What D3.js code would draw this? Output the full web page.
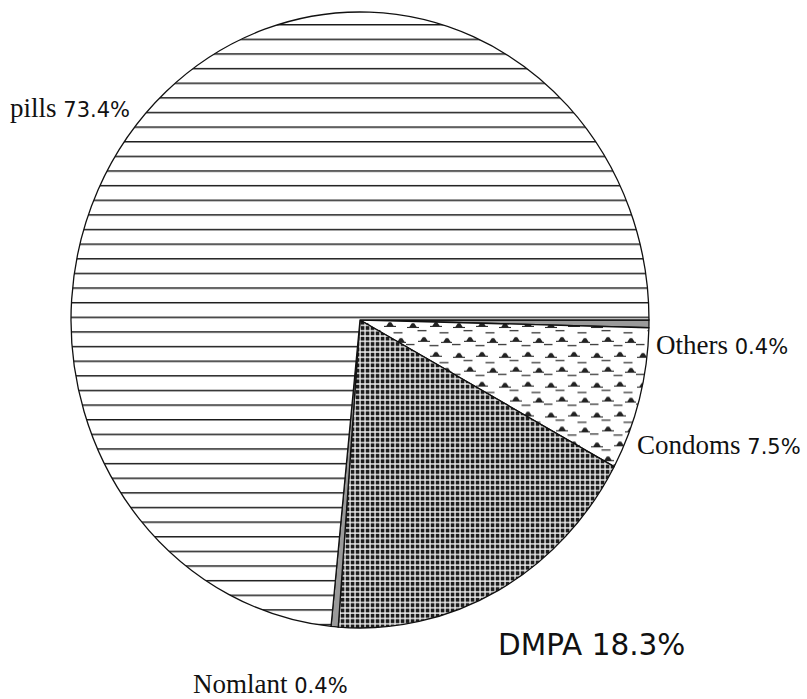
<!DOCTYPE html>
<meta charset="utf-8">
<style>
	body { margin: 0; background: #fff; }
</style>
<body>
	<script src="https://d3js.org/d3.v7.min.js"></script>
	<script>
		// data
		var methods = ["Others", "Condoms", "DMPA", "Nomlant", "pills"];
		var shares = [0.4, 7.5, 18.3, 0.4, 73.4];

		var width = 807;
		var height = 699;

		// the pie is slightly taller than wide
		var cx = 360, cy = 320;
		var rx = 289, ry = 308;
		var sy = ry / rx;

		// label spots and fonts
		var labelPos = {
			"pills":   {x: 10,  y: 117, size: 27, pctSize: 21, serif: true},
			"Others":  {x: 656, y: 354, size: 27, pctSize: 21, serif: true},
			"Condoms": {x: 637, y: 454, size: 27, pctSize: 21, serif: true},
			"DMPA":    {x: 498, y: 655, size: 29.5, pctSize: 29.5, serif: false},
			"Nomlant": {x: 193, y: 693, size: 27, pctSize: 21, serif: true}
		};

		var svg = d3.select("body").append("svg")
			.attr("width", width)
			.attr("height", height);

		var defs = svg.append("defs");

		// horizontal lines for pills
		var lineGap = 14.63 / sy;
		var pLines = defs.append("pattern")
			.attr("id", "hlines")
			.attr("patternUnits", "userSpaceOnUse")
			.attr("width", 40)
			.attr("height", lineGap)
			.attr("y", (24 - cy) / sy);
		pLines.append("rect").attr("width", 40).attr("height", lineGap).attr("fill", "white");
		pLines.append("line")
			.attr("x1", 0).attr("x2", 40)
			.attr("y1", 0.7).attr("y2", 0.7)
			.attr("stroke", "#1a1a1a")
			.attr("stroke-width", 1.5);

		// dark grid for DMPA
		var gs = 5;
		var pGrid = defs.append("pattern")
			.attr("id", "grid")
			.attr("patternUnits", "userSpaceOnUse")
			.attr("width", gs)
			.attr("height", gs);
		pGrid.append("rect").attr("width", gs).attr("height", gs).attr("fill", "#f0f0f0");
		pGrid.append("rect")
			.attr("x", 0.7).attr("y", 0.7)
			.attr("width", 3.7).attr("height", 3.7)
			.attr("fill", "#1c1c1c");

		// dashes and little hats for condoms
		var pw = 46, ph = 28;
		var pDots = defs.append("pattern")
			.attr("id", "hats")
			.attr("patternUnits", "userSpaceOnUse")
			.attr("width", pw)
			.attr("height", ph);
		pDots.append("rect").attr("width", pw).attr("height", ph).attr("fill", "white");
		var hats = [[7, 7], [30, 6], [18, 20], [41, 21]];
		var dashes = [[16, 10], [38, 12], [4, 23], [28, 24]];
		hats.forEach(function(h) {
			pDots.append("line")
				.attr("x1", h[0] - 6).attr("x2", h[0] + 6)
				.attr("y1", h[1]).attr("y2", h[1])
				.attr("stroke", "#222").attr("stroke-width", 1);
			pDots.append("path")
				.attr("d", "M" + (h[0] - 4) + "," + h[1] + " L" + (h[0] - 1.2) + "," + (h[1] - 4) +
					" L" + (h[0] + 1.2) + "," + (h[1] - 4) + " L" + (h[0] + 4) + "," + h[1] + "Z")
				.attr("fill", "#222");
		});
		dashes.forEach(function(d) {
			pDots.append("line")
				.attr("x1", d[0] - 4.5).attr("x2", d[0] + 4.5)
				.attr("y1", d[1]).attr("y2", d[1])
				.attr("stroke", "#222").attr("stroke-width", 1.1);
		});

		var fills = {
			"Others": "#9a9a9a",
			"Condoms": "url(#hats)",
			"DMPA": "url(#grid)",
			"Nomlant": "#9a9a9a",
			"pills": "url(#hlines)"
		};

		var data = methods.map(function(m, i) { return {name: m, value: shares[i]}; });

		var pie = d3.pie()
			.sort(null)
			.value(function(d) { return d.value; })
			.startAngle(Math.PI / 2)
			.endAngle(Math.PI / 2 + 2 * Math.PI);

		var arc = d3.arc()
			.innerRadius(0)
			.outerRadius(rx);

		var g = svg.append("g")
			.attr("transform", "translate(" + cx + "," + cy + ") scale(1," + sy + ")");

		g.selectAll("path.slice")
			.data(pie(data))
			.enter()
			.append("path")
			.attr("class", "slice")
			.attr("d", arc)
			.attr("fill", function(d) { return fills[d.data.name]; })
			.attr("stroke", "#111")
			.attr("stroke-width", 1.3)
			.attr("stroke-linejoin", "round")
			.attr("vector-effect", "non-scaling-stroke");

		// labels
		var labels = svg.selectAll("text.lbl")
			.data(data)
			.enter()
			.append("text")
			.attr("class", "lbl")
			.attr("x", function(d) { return labelPos[d.name].x; })
			.attr("y", function(d) { return labelPos[d.name].y; })
			.attr("fill", "#111");

		labels.append("tspan")
			.text(function(d) { return d.name + " "; })
			.attr("font-family", function(d) { return labelPos[d.name].serif ? "Liberation Serif, serif" : "DejaVu Sans, sans-serif"; })
			.attr("font-size", function(d) { return labelPos[d.name].size + "px"; });

		labels.append("tspan")
			.text(function(d) { return d.value.toFixed(1) + "%"; })
			.attr("font-family", "DejaVu Sans, sans-serif")
			.attr("font-size", function(d) { return labelPos[d.name].pctSize + "px"; });
	</script>
</body>
